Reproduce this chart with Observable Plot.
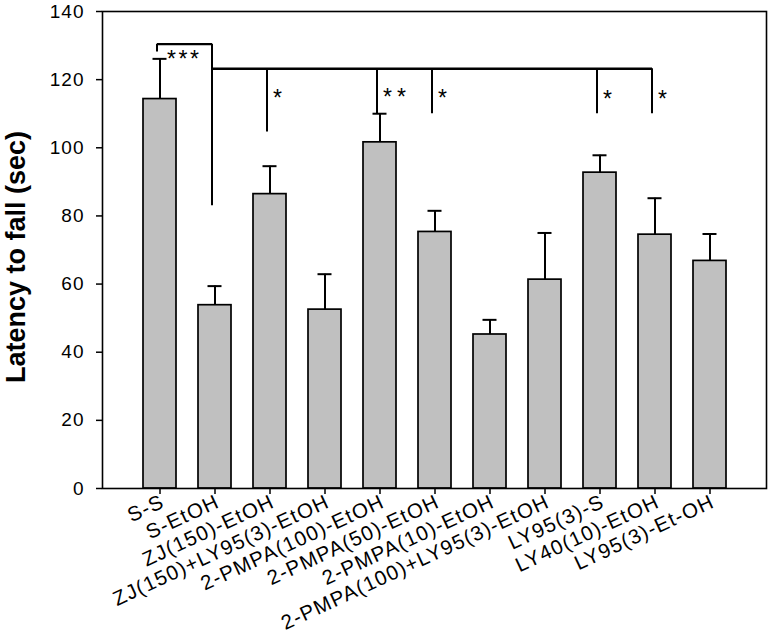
<!DOCTYPE html>
<html>
<head>
<meta charset="utf-8">
<script src="https://cdn.jsdelivr.net/npm/d3@7"></script>
<script src="https://cdn.jsdelivr.net/npm/@observablehq/plot@0.6"></script>
<style>
  html, body { margin: 0; padding: 0; background: #fff; }
  #chart svg { display: block; }
</style>
</head>
<body>
<div id="chart"></div>
<script>
// ---- data ----
const categories = [
  "S-S", "S-EtOH", "ZJ(150)-EtOH", "ZJ(150)+LY95(3)-EtOH", "2-PMPA(100)-EtOH",
  "2-PMPA(50)-EtOH", "2-PMPA(10)-EtOH", "2-PMPA(100)+LY95(3)-EtOH",
  "LY95(3)-S", "LY40(10)-EtOH", "LY95(3)-Et-OH"
];
const means = [114.3, 53.8, 86.4, 52.5, 101.6, 75.3, 45.2, 61.3, 92.7, 74.5, 66.8];
const sems  = [11.8, 5.6, 8.2, 10.4, 8.4, 6.2, 4.3, 13.7, 5.1, 10.7, 7.9];
const yTicks = [0, 20, 40, 60, 80, 100, 120, 140];
const yLabel = "Latency to fall (sec)";

// significance brackets: horizontal spans
const spanStart = ["S-S", "S-EtOH"];
const spanEnd   = ["S-EtOH", "LY40(10)-EtOH"];
const spanLevel = [130.4, 123.2];
// vertical risers
const riserCats   = ["S-S", "S-EtOH", "ZJ(150)-EtOH", "2-PMPA(100)-EtOH", "2-PMPA(50)-EtOH", "LY95(3)-S", "LY40(10)-EtOH"];
const riserTop    = [130.4, 130.4, 123.2, 123.2, 123.2, 123.2, 123.2];
const riserBottom = [128.1, 83.0, 104.6, 110.0, 110.0, 110.0, 110.0];
// asterisks
const starCats   = ["S-S", "ZJ(150)-EtOH", "2-PMPA(100)-EtOH", "2-PMPA(50)-EtOH", "LY95(3)-S", "LY40(10)-EtOH"];
const starLabels = ["***", "*", "**", "*", "*", "*"];
const starLevel  = [126.0, 114.4, 114.6, 114.4, 114.0, 114.0];

// ---- tables built from the arrays ----
const rows = categories.map((c, i) => ({cat: c, mean: means[i], top: means[i] + sems[i]}));
const spans = spanStart.map((s, i) => ({from: s, to: spanEnd[i], y: spanLevel[i]}));
const risers = riserCats.map((c, i) => ({cat: c, y1: riserTop[i], y2: riserBottom[i]}));
const stars = starCats.map((c, i) => ({cat: c, label: starLabels[i], y: starLevel[i]}));

const font = "'Liberation Sans', Arial, Helvetica, sans-serif";

const chart = Plot.plot({
  width: 774,
  height: 640,
  marginLeft: 102,
  marginRight: 8,
  marginTop: 11,
  marginBottom: 152,
  style: {fontFamily: font, color: "black", background: "white"},
  x: {type: "band", domain: categories, paddingInner: 0.4, paddingOuter: 0.7, align: 0.5},
  y: {domain: [0, 140]},
  marks: [
    Plot.barY(rows, {x: "cat", y: "mean", fill: "#c0c0c0", stroke: "black", strokeWidth: 1.7}),
    Plot.ruleX(rows, {x: "cat", y1: "mean", y2: "top", stroke: "black", strokeWidth: 2}),
    Plot.tickY(rows, {x: "cat", y: "top", stroke: "black", strokeWidth: 2, insetLeft: 9.5, insetRight: 9.5}),
    Plot.link(spans, {x1: "from", x2: "to", y1: "y", y2: "y", stroke: "black", strokeWidth: 2.3, dx: -3}),
    Plot.ruleX(risers, {x: "cat", y1: "y1", y2: "y2", stroke: "black", strokeWidth: 2, dx: -3}),
    Plot.text(stars.slice(0, 1), {x: "cat", y: "y", text: "label", textAnchor: "start", dx: 7, fontSize: 23, fill: "black"}),
    Plot.text(stars.slice(1), {x: "cat", y: "y", text: "label", textAnchor: "start", dx: 3, fontSize: 23, fill: "black"}),
    Plot.frame({stroke: "black", strokeWidth: 1.6}),
    Plot.axisY({ticks: yTicks, tickSize: 6, tickPadding: 12, fontSize: 19, label: null, strokeWidth: 1.5}),
    // x ticks (marks only)
    Plot.axisX({tickSize: 6, tickFormat: () => "", label: null, strokeWidth: 1.5}),
    // x tick labels (rotated)
    Plot.axisX({tickSize: 0, tickPadding: 12, tickRotate: -25, fontSize: 20.5, label: null, dx: 3}),
    Plot.text([yLabel], {frameAnchor: "left", textAnchor: "middle", lineAnchor: "middle", rotate: -90, dx: -86, dy: 7, fontSize: 27, fontWeight: "bold", fill: "black"})
  ]
});

// styling: letter spacing like the original figure
chart.querySelectorAll('g[aria-label="x-axis tick label"] text').forEach(t => t.setAttribute("letter-spacing", "1.25"));
chart.querySelectorAll('g[aria-label="y-axis tick label"] text').forEach(t => t.setAttribute("letter-spacing", "1"));
chart.querySelectorAll("text").forEach(t => {
  const s = t.textContent;
  if (s === "***") t.setAttribute("letter-spacing", "2.5");
  else if (s === "**") t.setAttribute("letter-spacing", "5");
});

document.getElementById("chart").appendChild(chart);
</script>
</body>
</html>
